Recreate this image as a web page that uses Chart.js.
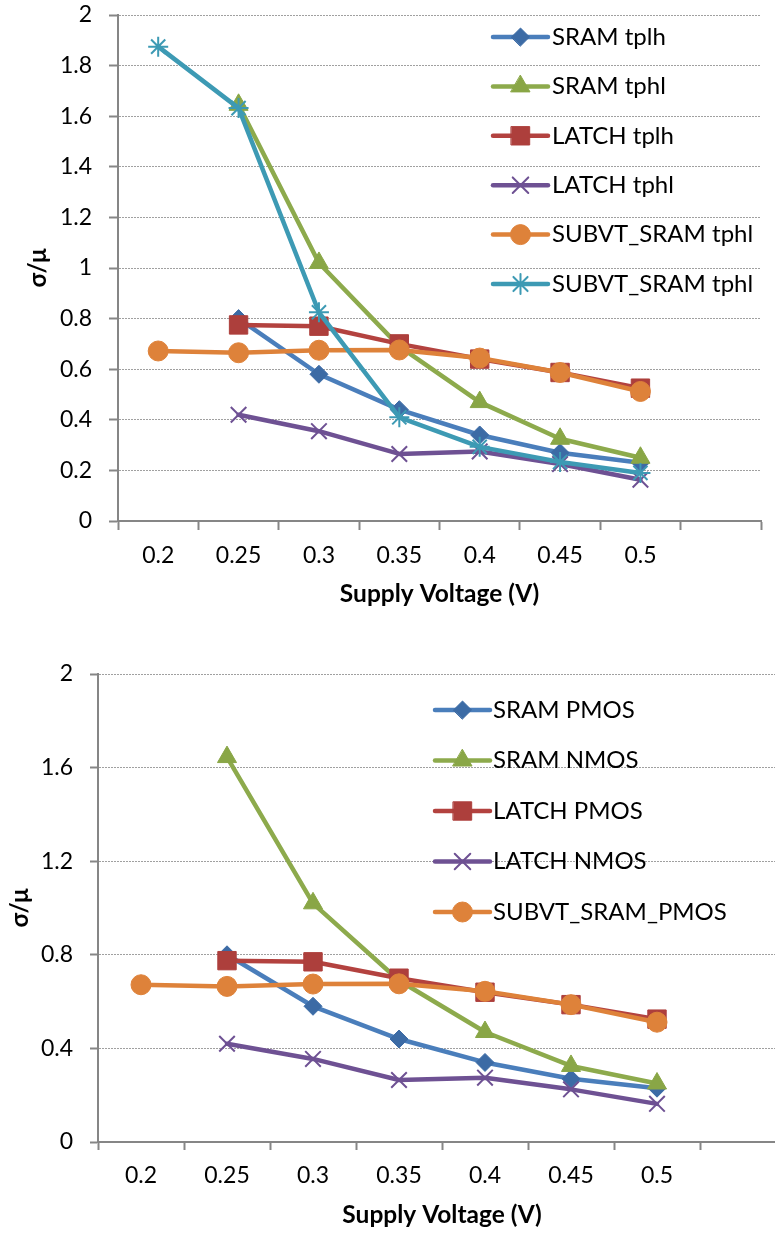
<!DOCTYPE html>
<html>
<head>
<meta charset="utf-8">
<script src="https://cdn.jsdelivr.net/npm/chart.js@4.4.0/dist/chart.umd.min.js"></script>
<style>
  html, body { margin: 0; padding: 0; background: #fff; overflow: hidden; }
  body { width: 775px; height: 1241px; position: relative; }
  #delayChart { position: absolute; left: 0; top: 0; }
  #mosChart { position: absolute; left: 0; top: 620px; }
</style>
</head>
<body>
<canvas id="delayChart" width="775" height="620"></canvas>
<canvas id="mosChart" width="800" height="621"></canvas>
<script>
// Supply voltage categories (last slot is an empty category)
const voltages = ['0.2', '0.25', '0.3', '0.35', '0.4', '0.45', '0.5', ''];

// sigma/mu per supply voltage
const sramTplh  = [null, 0.80, 0.58, 0.44, 0.34, 0.27, 0.23];
const sramTphl  = [null, 1.645, 1.02, 0.69, 0.47, 0.325, 0.25];
const latchTplh = [null, 0.775, 0.77, 0.70, 0.64, 0.587, 0.525];
const latchTphl = [null, 0.42, 0.355, 0.265, 0.275, 0.225, 0.163];
const subvtSram = [0.672, 0.665, 0.675, 0.676, 0.644, 0.587, 0.512];
const subvtTphl = [1.875, 1.632, 0.825, 0.41, 0.293, 0.233, 0.19];

const yTicksTop = [0, 0.2, 0.4, 0.6, 0.8, 1, 1.2, 1.4, 1.6, 1.8, 2];
const yTicksBottom = [0, 0.4, 0.8, 1.2, 1.6, 2];

Chart.defaults.font.family = 'Lato, "Open Sans", sans-serif';
Chart.defaults.color = '#000';

const styles = {
  blue:   { line: '#4A7EBB', marker: '#3C6BA5', pointStyle: 'rectRot',  radius: 9,  markerBorder: 1 },
  green:  { line: '#8DAA4C', marker: '#89A646', pointStyle: 'triangle', radius: 11, markerBorder: 1 },
  red:    { line: '#B3423F', marker: '#AD3F3C', pointStyle: 'rect',     radius: 13, markerBorder: 1 },
  purple: { line: '#6E5193', marker: '#6E5193', pointStyle: 'crossRot', radius: 11, markerBorder: 2 },
  orange: { line: '#DE823A', marker: '#DE823A', pointStyle: 'circle',   radius: 10, markerBorder: 1 },
  teal:   { line: '#3D9AB4', marker: '#3D9AB4', pointStyle: 'star',     radius: 10, markerBorder: 2 }
};

function makeDataset(label, data, style, order) {
  return {
    label: label,
    data: data,
    borderColor: style.line,
    backgroundColor: style.marker,
    borderWidth: 4.5,
    borderCapStyle: 'round',
    borderJoinStyle: 'round',
    pointStyle: style.pointStyle,
    pointRadius: style.radius,
    pointBackgroundColor: style.marker,
    pointBorderColor: style.marker,
    pointBorderWidth: style.markerBorder,
    tension: 0,
    order: order
  };
}

// legend drawn inside the plot, to the right, one row per series
const sideLegend = {
  id: 'sideLegend',
  afterDraw(chart, args, opts) {
    const ctx = chart.ctx;
    ctx.save();
    chart.data.datasets.forEach((ds, i) => {
      const y = opts.y + i * opts.gap;
      ctx.lineCap = 'round';
      ctx.strokeStyle = ds.borderColor;
      ctx.lineWidth = ds.borderWidth;
      ctx.beginPath();
      ctx.moveTo(opts.x, y);
      ctx.lineTo(opts.x + opts.lineLen, y);
      ctx.stroke();

      ctx.fillStyle = ds.pointBackgroundColor;
      ctx.strokeStyle = ds.pointBorderColor;
      ctx.lineWidth = ds.pointBorderWidth;
      Chart.helpers.drawPoint(ctx, {
        pointStyle: ds.pointStyle,
        radius: ds.pointRadius,
        borderWidth: ds.pointBorderWidth,
        rotation: 0
      }, opts.x + opts.lineLen / 2, y);

      ctx.fillStyle = '#000';
      ctx.font = opts.fontSize + 'px ' + Chart.defaults.font.family;
      ctx.textBaseline = 'middle';
      ctx.textAlign = 'left';
      ctx.fillText(ds.label, opts.x + opts.lineLen + opts.textGap, y);
    });
    ctx.restore();
  }
};

function makeScales(yTicks, yWidth, yTitlePad, tickLen) {
  return {
    x: {
      offset: true,
      afterFit: s => {
        s.height = 99;
        s.paddingLeft = 0;
        s.paddingRight = 0;
      },
      ticks: { font: { size: 23 }, padding: 12, autoSkip: false, maxRotation: 0 },
      grid: { offset: true, drawOnChartArea: false, tickLength: tickLen, tickColor: '#868686', tickWidth: 2 },
      border: { color: '#868686', width: 2 },
      title: {
        display: true, text: 'Supply Voltage (V)',
        font: { size: 24.5, weight: 'bold' },
        padding: { top: 0, bottom: 11 }
      }
    },
    y: {
      min: 0,
      max: 2,
      afterBuildTicks: s => { s.ticks = yTicks.map(v => ({ value: v })); },
      afterFit: s => {
        s.width = yWidth;
        s.paddingTop = 0;
        s.paddingBottom = 0;
      },
      ticks: { font: { size: 23 }, padding: 17, autoSkip: false, callback: v => String(v) },
      grid: { color: '#a0a0a0', lineWidth: 1, tickLength: tickLen, tickColor: '#868686', tickWidth: 2, tickBorderDash: [] },
      border: { color: '#868686', width: 2, dash: [2, 1] },
      title: {
        display: true, text: 'σ/μ',
        font: { size: 24, weight: 'bold' },
        padding: { top: yTitlePad, bottom: 0 }
      }
    }
  };
}

// Delay variability chart
new Chart(document.getElementById('delayChart'), {
  type: 'line',
  data: {
    labels: voltages,
    datasets: [
      makeDataset('SRAM tplh', sramTplh, styles.blue, 6),
      makeDataset('SRAM tphl', sramTphl, styles.green, 5),
      makeDataset('LATCH tplh', latchTplh, styles.red, 4),
      makeDataset('LATCH tphl', latchTphl, styles.purple, 3),
      makeDataset('SUBVT_SRAM tphl', subvtSram, styles.orange, 2),
      makeDataset('SUBVT_SRAM tphl', subvtTphl, styles.teal, 1)
    ]
  },
  options: {
    responsive: false,
    animation: false,
    layout: { padding: { top: 15, right: 6, left: 0, bottom: 0 } },
    scales: makeScales(yTicksTop, 118, 24, 9),
    plugins: {
      legend: { display: false },
      tooltip: { enabled: false },
      sideLegend: { x: 493, y: 37, gap: 49.4, lineLen: 55, textGap: 4, fontSize: 24 }
    }
  },
  plugins: [sideLegend]
});

// Transistor variability chart
new Chart(document.getElementById('mosChart'), {
  type: 'line',
  data: {
    labels: voltages,
    datasets: [
      makeDataset('SRAM PMOS', sramTplh, styles.blue, 5),
      makeDataset('SRAM NMOS', sramTphl, styles.green, 4),
      makeDataset('LATCH PMOS', latchTplh, styles.red, 3),
      makeDataset('LATCH NMOS', latchTphl, styles.purple, 2),
      makeDataset('SUBVT_SRAM_PMOS', subvtSram, styles.orange, 1)
    ]
  },
  options: {
    responsive: false,
    animation: false,
    layout: { padding: { top: 54, right: 12, left: 0, bottom: 0 } },
    scales: makeScales(yTicksBottom, 98, 6, 8),
    plugins: {
      legend: { display: false },
      tooltip: { enabled: false },
      sideLegend: { x: 435, y: 90, gap: 50.5, lineLen: 55, textGap: 3, fontSize: 24 }
    }
  },
  plugins: [sideLegend]
});
</script>
</body>
</html>
